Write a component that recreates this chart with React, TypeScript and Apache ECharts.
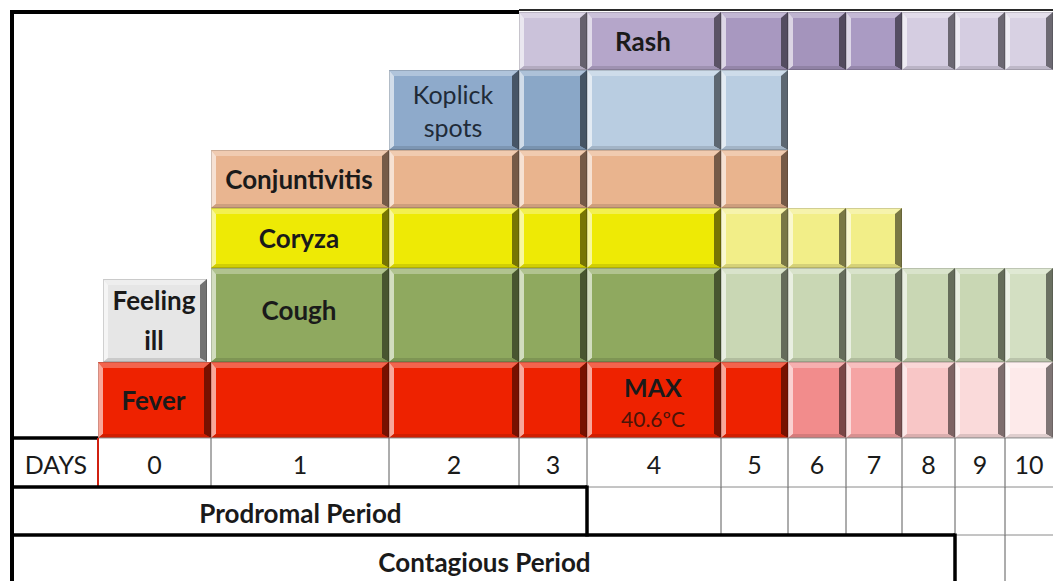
import React, { useEffect, useRef } from "react";
import * as echarts from "echarts";

// ---- data ----
const dayLabels = ["0", "1", "2", "3", "4", "5", "6", "7", "8", "9", "10"];
// column boundaries of the day columns (axis units)
const dayEdges = [98, 211, 389, 519, 587, 721, 788, 846, 902, 955, 1005, 1053];
const symptomRows = ["Rash", "Koplick spots", "Conjuntivitis", "Coryza", "Cough", "Fever"];
// row boundaries of the symptom rows (axis units, top to bottom)
const rowEdges = [12, 70, 150, 208, 268, 362, 438];
// days row, prodromal row, contagious row
const tableEdges = [438, 487, 535, 581];
const tableLeft = 14;
const tableRight = 1053;

// first day of each symptom and the shade of each day's block
const rashStart = 3;
const rashColors = ["#cbc2da", "#b5a6ca", "#a898c0", "#a494bc", "#aa9bc3", "#d5cde1", "#d5cde1", "#d8d1e3"];
const koplickStart = 2;
const koplickColors = ["#8eaacb", "#8aa7c7", "#b9cde1", "#b9cde1"];
const conjStart = 1;
const conjColors = ["#e9b590", "#e9b48e", "#e9b48e", "#e9b48e", "#e9b48e"];
const coryzaStart = 1;
const coryzaColors = ["#eeea05", "#eeea05", "#eeea05", "#eeea05", "#f2ee88", "#f2ee88", "#f2ee88"];
const coughStart = 1;
const coughColors = ["#8fa95f", "#8fa95f", "#8fa95f", "#8fa95f", "#c9d7b4", "#c9d7b4", "#c9d7b4", "#c9d7b4", "#c9d7b4", "#d3dfc2"];
const feverStart = 0;
const feverColors = ["#ee2200", "#ee2200", "#ee2200", "#ee2200", "#ee2200", "#ee2200", "#f28c8c", "#f5a4a4", "#f8c6c6", "#fadada", "#fdeaea"];
const feelingIll = { row: 4, day: 0, color: "#e6e6e6" };

const labels = [
  { row: 0, day: 4, text: "Rash", bold: true },
  { row: 1, day: 2, text: "Koplick\nspots", bold: false },
  { row: 2, day: 1, text: "Conjuntivitis", bold: true },
  { row: 3, day: 1, text: "Coryza", bold: true },
  { row: 4, day: 1, text: "Cough", bold: true },
  { row: 4, day: 0, text: "Feeling\nill", bold: true },
  { row: 5, day: 0, text: "Fever", bold: true },
  { row: 5, day: 4, text: "MAX", sub: "40.6ºC", bold: true },
];

const periods = [
  { name: "Prodromal Period", lastDay: 3 },
  { name: "Contagious Period", lastDay: 8 },
];

const FONT = "Lato, 'Open Sans', sans-serif";

function mix(hex: string, to: string, t: number) {
  const p = (h: string) => [1, 3, 5].map((i) => parseInt(h.slice(i, i + 2), 16));
  const a = p(hex), b = p(to);
  const c = a.map((v, i) => Math.round(v + (b[i] - v) * t));
  return `rgb(${c[0]},${c[1]},${c[2]})`;
}

type Cell = { row: number; day: number; color: string; inset?: number[] };
const cells: Cell[] = [];
const addRow = (row: number, start: number, colors: string[]) =>
  colors.forEach((c, i) => cells.push({ row, day: start + i, color: c }));
addRow(0, rashStart, rashColors);
addRow(1, koplickStart, koplickColors);
addRow(2, conjStart, conjColors);
addRow(3, coryzaStart, coryzaColors);
addRow(4, coughStart, coughColors);
cells.push({ row: feelingIll.row, day: feelingIll.day, color: feelingIll.color, inset: [11, 4, 0, 5] });
addRow(5, feverStart, feverColors);

export default function App() {
  const ref = useRef<HTMLDivElement>(null);
  useEffect(() => {
    document.body.style.margin = "0";
    const chart = echarts.init(ref.current!, null, { renderer: "svg" });

    const blockData = cells.map((c) => ({
      value: [dayEdges[c.day], dayEdges[c.day + 1], rowEdges[c.row], rowEdges[c.row + 1]],
      itemStyle: { color: c.color },
    }));

    const renderBlock = (params: any, api: any) => {
      const c = cells[params.dataIndex];
      const ins = c.inset || [0, 0, 0, 0];
      const p0 = api.coord([api.value(0), api.value(2)]);
      const p1 = api.coord([api.value(1), api.value(3)]);
      const x0 = p0[0] + ins[3], y0 = p0[1] + ins[0];
      const x1 = p1[0] - ins[1], y1 = p1[1] - ins[2];
      const base = c.color;
      const bl = 5, br = 7, bt = 6, bb = 4;
      const children: any[] = [
        { type: "rect", shape: { x: x0, y: y0, width: x1 - x0, height: y1 - y0 }, style: { fill: base } },
        { type: "polygon", shape: { points: [[x0, y0], [x1, y0], [x1 - br, y0 + bt], [x0 + bl, y0 + bt]] }, style: { fill: mix(base, "#ffffff", 0.3) } },
        { type: "polygon", shape: { points: [[x0, y0], [x0 + bl, y0 + bt], [x0 + bl, y1 - bb], [x0, y1]] }, style: { fill: mix(base, "#ffffff", 0.6) } },
        { type: "polygon", shape: { points: [[x1, y0], [x1, y1], [x1 - br, y1 - bb], [x1 - br, y0 + bt]] }, style: { fill: mix(base, "#000000", 0.5) } },
        { type: "polygon", shape: { points: [[x0, y1], [x0 + bl, y1 - bb], [x1 - br, y1 - bb], [x1, y1]] }, style: { fill: mix(base, "#000000", 0.12) } },
        { type: "rect", shape: { x: x0 + 0.5, y: y0 + 0.5, width: x1 - x0 - 1, height: y1 - y0 - 1 }, style: { fill: "none", stroke: "rgba(0,0,0,0.15)", lineWidth: 1 } },
      ];
      const lab = labels.find((l) => l.row === c.row && l.day === c.day);
      if (lab) {
        const cx = (x0 + x1 - 2) / 2;
        const cy = (y0 + y1) / 2;
        if (lab.sub) {
          children.push({ type: "text", style: { text: lab.text, x: cx, y: cy - 13, align: "center", verticalAlign: "middle", fontFamily: FONT, fontWeight: "bold", fontSize: 25, fill: "#1a1a1a" } });
          children.push({ type: "text", style: { text: lab.sub, x: cx, y: cy + 18, align: "center", verticalAlign: "middle", fontFamily: FONT, fontSize: 21, fill: "#4a1408" } });
        } else {
          const isKop = !lab.bold;
          children.push({
            type: "text",
            style: {
              text: lab.text, x: cx + (lab.text === "Rash" ? -10 : 0), y: cy + (lab.text === "Cough" ? -5 : 0) + (lab.text === "Feeling\nill" ? -1 : 0),
              align: "center", verticalAlign: "middle", fontFamily: FONT,
              fontWeight: lab.bold ? "bold" : "normal", fontSize: isKop ? 25 : 26,
              lineHeight: lab.text.includes("\n") ? (isKop ? 33 : 40) : 30,
              fill: isKop ? "#1f2b38" : "#1a1a1a",
            },
          });
        }
      }
      return { type: "group", children };
    };

    const renderTable = (params: any, api: any) => {
      const P = (x: number, y: number) => api.coord([x, y]);
      const ln = (xa: number, ya: number, xb: number, yb: number, stroke: string, w: number) => {
        const a = P(xa, ya), b = P(xb, yb);
        return { type: "line", shape: { x1: a[0], y1: a[1], x2: b[0], y2: b[1] }, style: { stroke, lineWidth: w } };
      };
      const txt = (text: string, x: number, y: number, bold: boolean) => {
        const a = P(x, y);
        return { type: "text", style: { text, x: a[0], y: a[1], align: "center", verticalAlign: "middle", fontFamily: FONT, fontWeight: bold ? "bold" : "normal", fontSize: bold ? 26 : 25, fill: "#1a1a1a" } };
      };
      const [dTop, dBot, pBot, cBot] = tableEdges;
      const ch: any[] = [];
      const GRAY = "#5a5a5a";
      // days row
      ch.push(ln(dayEdges[0], dTop, tableRight, dTop, "#9a9a9a", 1));
      ch.push(ln(tableLeft, dTop, dayEdges[0], dTop, "#000", 3.5));
      dayEdges.slice(0, -1).forEach((x, i) => {
        ch.push(ln(x, dTop, x, dBot, i === 0 ? "#d02010" : GRAY, i === 0 ? 2 : 1));
      });
      ch.push(txt("DAYS", (tableLeft + dayEdges[0]) / 2, (dTop + dBot) / 2 + 1, false));
      dayLabels.forEach((d, i) => ch.push(txt(d, (dayEdges[i] + dayEdges[i + 1]) / 2, (dTop + dBot) / 2 + 1, false)));
      // period rows
      const rowBots = [pBot, cBot];
      const rowTops = [dBot, pBot];
      periods.forEach((p, k) => {
        const xr = dayEdges[p.lastDay + 1];
        const yt = rowTops[k], yb = rowBots[k];
        ch.push(ln(xr, yt, tableRight, yt, "#8a8a8a", 1));
        dayEdges.slice(p.lastDay + 2, -1).forEach((x) => ch.push(ln(x, yt, x, yb, GRAY, 1)));
        ch.push(ln(tableLeft, yt, xr, yt, "#000", 3.5));
        ch.push(ln(xr, yt - 1.5, xr, yb + (k === periods.length - 1 ? 0 : 1.5), "#000", 3.5));
        ch.push(txt(p.name, (tableLeft + xr) / 2, (yt + yb) / 2 + (k === 1 ? 4 : 2), true));
      });
      // outer frame
      ch.push(ln(12, 10, 12, cBot, "#000", 4));
      ch.push(ln(10, 12, dayEdges[3], 12, "#000", 4));
      ch.push(ln(dayEdges[3], 10, tableRight, 10, "#2a2a2a", 2));
      return { type: "group", children: ch };
    };

    chart.setOption({
      animation: false,
      grid: { left: 0, right: 0, top: 0, bottom: 0 },
      xAxis: { type: "value", min: 0, max: 1053, show: false },
      yAxis: { type: "value", min: 0, max: 581, inverse: true, show: false },
      series: [
        {
          type: "custom",
          name: "symptoms",
          renderItem: renderBlock,
          data: blockData,
          encode: { x: [0, 1], y: [2, 3] },
          clip: false,
        },
        {
          type: "custom",
          name: "table",
          renderItem: renderTable,
          data: [[0, 0]],
          encode: { x: 0, y: 1 },
          clip: false,
          z: 3,
        },
      ],
    });
    return () => chart.dispose();
  }, []);
  return <div ref={ref} style={{ width: 1053, height: 581 }} />;
}
